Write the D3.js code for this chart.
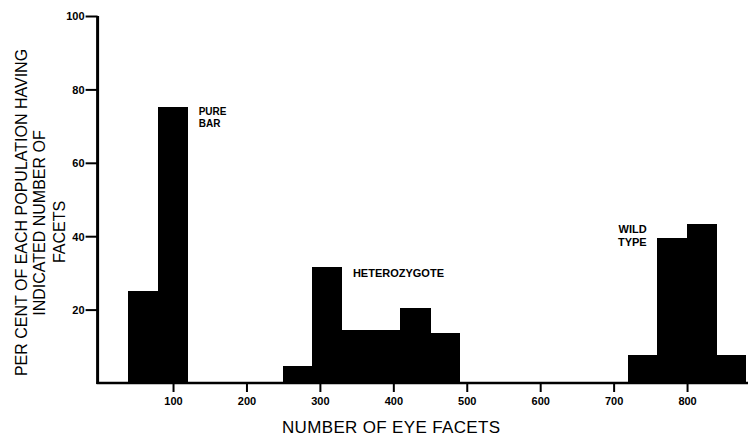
<!DOCTYPE html>
<html>
<head>
<meta charset="utf-8">
<script src="https://cdn.jsdelivr.net/npm/d3@7"></script>
<style>
  html, body { margin: 0; padding: 0; background: #fff; }
  svg { display: block; }
  text { font-family: "Liberation Sans", Arial, sans-serif; fill: #000; }
</style>
</head>
<body>
<div id="chart"></div>
<script>
// ---- data ----
const binStart = [40, 80, 250, 290, 330, 370, 410, 450, 720, 760, 800, 840];
const binEnd   = [80, 120, 290, 330, 370, 410, 450, 490, 760, 800, 840, 880];
const percent  = [25, 75, 4.5, 31.6, 14.4, 14.4, 20.4, 13.4, 7.4, 39.5, 43.3, 7.4];
const xTicks = [100, 200, 300, 400, 500, 600, 700, 800];
const yTicks = [20, 40, 60, 80, 100];
const groupLabels = [
  { lines: ["PURE", "BAR"], y: 73 },
  { lines: ["HETEROZYGOTE"], y: 29 },
  { lines: ["WILD", "TYPE"], y: 41 }
];
const xTitle = "NUMBER OF EYE FACETS";
const yTitleLines = ["PER CENT OF EACH POPULATION  HAVING", "INDICATED NUMBER OF", "FACETS"];

// ---- layout ----
const W = 748, H = 436;
const svg = d3.select("#chart").append("svg").attr("width", W).attr("height", H);

const x = d3.scaleLinear().domain([0, 880]).range([99.6, 745.8]);
const y = d3.scaleLinear().domain([0, 100]).range([383, 16]);

// bars
svg.append("g").selectAll("rect")
  .data(percent)
  .join("rect")
  .attr("x", (d, i) => x(binStart[i]))
  .attr("width", (d, i) => x(binEnd[i]) - x(binStart[i]))
  .attr("y", d => y(d))
  .attr("height", d => y(0) - y(d))
  .attr("fill", "#000")
  .attr("stroke", "#000")
  .attr("stroke-width", 1)
  .attr("shape-rendering", "crispEdges");

// x axis
const xAxis = svg.append("g")
  .attr("transform", `translate(0,${y(0)})`)
  .call(d3.axisBottom(x).tickValues(xTicks).tickSize(9).tickSizeOuter(0).tickPadding(5));
xAxis.select(".domain").remove();
xAxis.selectAll(".tick line").attr("stroke", "#000").attr("stroke-width", 2);
xAxis.selectAll(".tick text")
  .style("font-size", "11px").style("font-weight", "bold").attr("fill", "#000");
svg.append("line")
  .attr("x1", x(0) - 3).attr("x2", W)
  .attr("y1", y(0)).attr("y2", y(0))
  .attr("stroke", "#000").attr("stroke-width", 2.5);

// y axis
const yAxis = svg.append("g")
  .attr("transform", `translate(${x(0) - 2},0)`)
  .call(d3.axisLeft(y).tickValues(yTicks).tickSize(12).tickSizeOuter(0).tickPadding(1));
yAxis.select(".domain").remove();
yAxis.selectAll(".tick line").attr("stroke", "#000").attr("stroke-width", 2);
yAxis.selectAll(".tick text")
  .style("font-size", "11px").style("font-weight", "bold").attr("fill", "#000")
  .attr("dy", "0.36em");
svg.append("line")
  .attr("x1", x(0) - 2).attr("x2", x(0) - 2)
  .attr("y1", y(100)).attr("y2", y(0) + 1)
  .attr("stroke", "#000").attr("stroke-width", 3);

// group labels
const labelX = [x(binEnd[1]) + 11, x(binEnd[3]) + 11, x(binStart[9]) - 11];
groupLabels.forEach((g, gi) => {
  const t = svg.append("text")
    .attr("x", labelX[gi])
    .attr("y", y(g.y))
    .attr("text-anchor", gi === 2 ? "end" : "start")
    .style("font-size", gi === 0 ? "10px" : "11px")
    .style("font-weight", "bold");
  g.lines.forEach((l, li) => {
    t.append("tspan")
      .attr("x", labelX[gi])
      .attr("dy", li === 0 ? 0 : (gi === 0 ? 12 : 13))
      .text(l);
  });
});

// x title
svg.append("text")
  .attr("x", 391)
  .attr("y", 433)
  .attr("text-anchor", "middle")
  .style("font-size", "17px")
  .attr("textLength", 218)
  .attr("lengthAdjust", "spacing")
  .text(xTitle);

// y title
const yLineOffsets = [0, -10.5, -19.5];
const yLineGaps = [0, 18, 20];
const yT = svg.append("text")
  .attr("transform", "translate(27,212.5) rotate(-90)")
  .attr("text-anchor", "middle")
  .style("font-size", "16px");
yTitleLines.forEach((l, i) => {
  yT.append("tspan")
    .attr("x", yLineOffsets[i])
    .attr("dy", yLineGaps[i])
    .text(l);
});
</script>
</body>
</html>
